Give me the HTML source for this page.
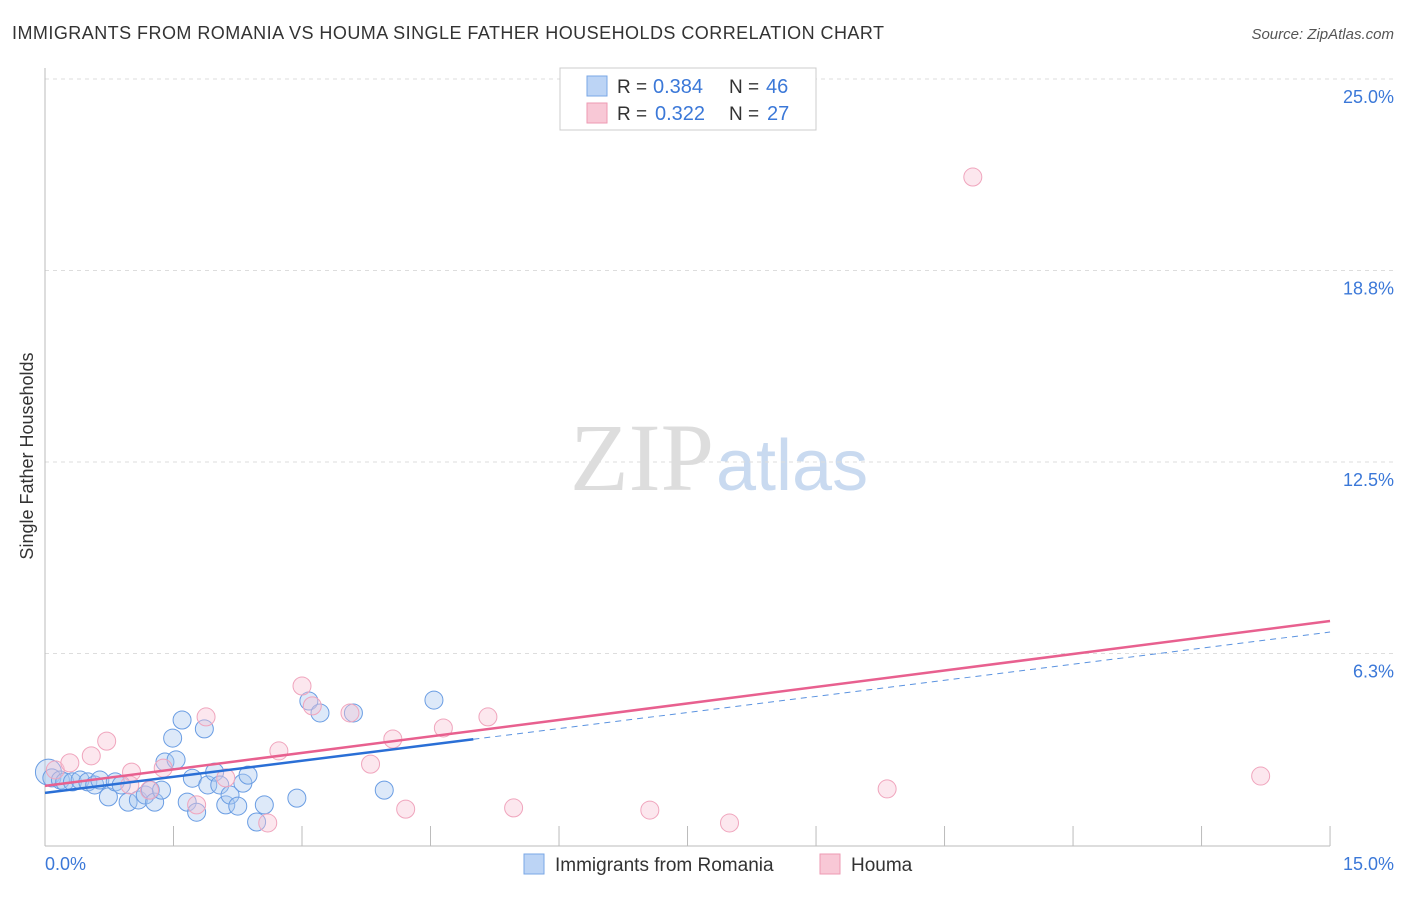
<!DOCTYPE html>
<html><head><meta charset="utf-8"><style>
body{margin:0;background:#fff;font-family:"Liberation Sans",sans-serif;}
</style></head><body>
<svg id="c" width="1406" height="892" xmlns="http://www.w3.org/2000/svg">
<text x="12" y="39" font-size="18" fill="#333" textLength="872" lengthAdjust="spacing">IMMIGRANTS FROM ROMANIA VS HOUMA SINGLE FATHER HOUSEHOLDS CORRELATION CHART</text>
<text x="1394" y="39" font-size="15" fill="#555" font-style="italic" text-anchor="end">Source: ZipAtlas.com</text>
<text x="714" y="490" font-size="96" fill="#ddd" font-family="Liberation Serif,serif" text-anchor="end">ZIP</text>
<text x="716" y="490" font-size="72" fill="#c9daf0">atlas</text>
<g id="grid"></g>
<line x1="45" y1="68" x2="45" y2="846" stroke="#bbb"/>
<line x1="45" y1="846" x2="1330" y2="846" stroke="#bbb"/>
<text x="33" y="456" font-size="18" fill="#333" text-anchor="middle" transform="rotate(-90 33 456)">Single Father Households</text>
<text x="45" y="870" font-size="18" fill="#3b78d8">0.0%</text>
<text x="1394" y="870" font-size="18" fill="#3b78d8" text-anchor="end">15.0%</text>
<g id="pts"></g>
<g id="lines"></g>
<g>
<rect x="560" y="68" width="256" height="62" fill="#fff" stroke="#ccc"/>
<rect x="587" y="76" width="20" height="20" fill="#bcd4f5" stroke="#7aa7e6"/>
<text x="617" y="93" font-size="19" fill="#333">R =</text>
<text x="653" y="93" font-size="20" fill="#3b78d8">0.384</text>
<text x="729" y="93" font-size="19" fill="#333">N =</text>
<text x="766" y="93" font-size="20" fill="#3b78d8">46</text>
<rect x="587" y="103" width="20" height="20" fill="#f8c8d6" stroke="#ee9ab3"/>
<text x="617" y="120" font-size="19" fill="#333">R =</text>
<text x="655" y="120" font-size="20" fill="#3b78d8">0.322</text>
<text x="729" y="120" font-size="19" fill="#333">N =</text>
<text x="767" y="120" font-size="20" fill="#3b78d8">27</text>
</g>
<g>
<rect x="524" y="854" width="20" height="20" fill="#bcd4f5" stroke="#7aa7e6"/>
<text x="555" y="871" font-size="19" fill="#333">Immigrants from Romania</text>
<rect x="820" y="854" width="20" height="20" fill="#f8c8d6" stroke="#ee9ab3"/>
<text x="851" y="871" font-size="19" fill="#333">Houma</text>
</g>
</svg>
<script>
const yTicks=[25,18.75,12.5,6.25];
const yTickLabels=["25.0%","18.8%","12.5%","6.3%"];
const xTicks=[1.5,3,4.5,6,7.5,9,10.5,12,13.5,15];
const blueX=[0.04,0.08,0.18,0.23,0.32,0.41,0.5,0.58,0.64,0.74,0.82,0.89,0.97,1.09,1.17,1.23,1.28,1.36,1.4,1.49,1.53,1.6,1.66,1.72,1.77,1.86,1.9,1.98,2.04,2.11,2.16,2.25,2.31,2.37,2.47,2.56,2.94,3.08,3.21,3.6,3.96,4.54];
const blueY=[2.38,2.19,2.12,2.06,2.06,2.12,2.06,1.96,2.12,1.57,2.06,1.96,1.4,1.47,1.63,1.79,1.4,1.79,2.71,3.49,2.78,4.08,1.4,2.18,1.07,3.79,1.96,2.38,1.96,1.31,1.63,1.27,2.02,2.28,0.75,1.31,1.53,4.7,4.31,4.31,1.79,4.73];
const pinkX=[0.12,0.29,0.54,0.72,1.01,1.22,1.38,1.77,1.88,2.11,2.6,2.73,3.0,3.12,3.56,3.8,4.06,4.21,4.65,5.17,5.47,7.06,7.99,9.83,10.83,14.19,0.99];
const pinkY=[2.45,2.68,2.91,3.39,2.38,1.79,2.51,1.31,4.18,2.19,0.72,3.07,5.19,4.54,4.31,2.64,3.46,1.17,3.82,4.18,1.21,1.14,0.72,1.83,21.8,2.25,1.96];
const blueTrend=[1.70,6.95], pinkTrend=[1.93,7.31], blueSolidEnd=5.0;
const X=v=>45+v*85.67, Y=v=>845-v*30.64;
const NS="http://www.w3.org/2000/svg";
const mk=(t,a,p)=>{const e=document.createElementNS(NS,t);for(const k in a)e.setAttribute(k,a[k]);document.getElementById(p).appendChild(e);return e;};
yTicks.forEach((t,i)=>{
 const l=mk('line',{x1:45,x2:1394,y1:Y(t),y2:Y(t),stroke:'#ddd','stroke-dasharray':'4,4'},'grid');
 
 
 const tx=mk('text',{x:1394,y:Y(t)+24,'font-size':18,fill:'#3b78d8','text-anchor':'end'},'grid');
 tx.textContent=yTickLabels[i];
 
 
});
xTicks.forEach(t=>{
 const l=mk('line',{x1:X(t),x2:X(t),y1:826,y2:846,stroke:'#bbb'},'grid');
 
 
});
blueX.forEach((x,i)=>{
 const c=mk('circle',{cx:X(x),cy:Y(blueY[i]),r:i==0?13:9,fill:'rgba(170,200,240,0.4)',stroke:'#6a9de3','stroke-width':1},'pts');
 
 
});
pinkX.forEach((x,i)=>{
 const c=mk('circle',{cx:X(x),cy:Y(pinkY[i]),r:9,fill:'rgba(248,195,212,0.4)',stroke:'#f0a5bd','stroke-width':1},'pts');
 
 
});
const by=x=>blueTrend[0]+(blueTrend[1]-blueTrend[0])*x/15;
let l1=mk('line',{x1:X(0),y1:Y(pinkTrend[0]),x2:X(15),y2:Y(pinkTrend[1]),stroke:'#e8608f','stroke-width':2.5},'lines');


let l2=mk('line',{x1:X(0),y1:Y(by(0)),x2:X(blueSolidEnd),y2:Y(by(blueSolidEnd)),stroke:'#2a6fd6','stroke-width':2.5},'lines');


let l3=mk('line',{x1:X(blueSolidEnd),y1:Y(by(blueSolidEnd)),x2:X(15),y2:Y(by(15)),stroke:'#5b93e0','stroke-width':1,'stroke-dasharray':'6,5'},'lines');


</script>
</body></html>
